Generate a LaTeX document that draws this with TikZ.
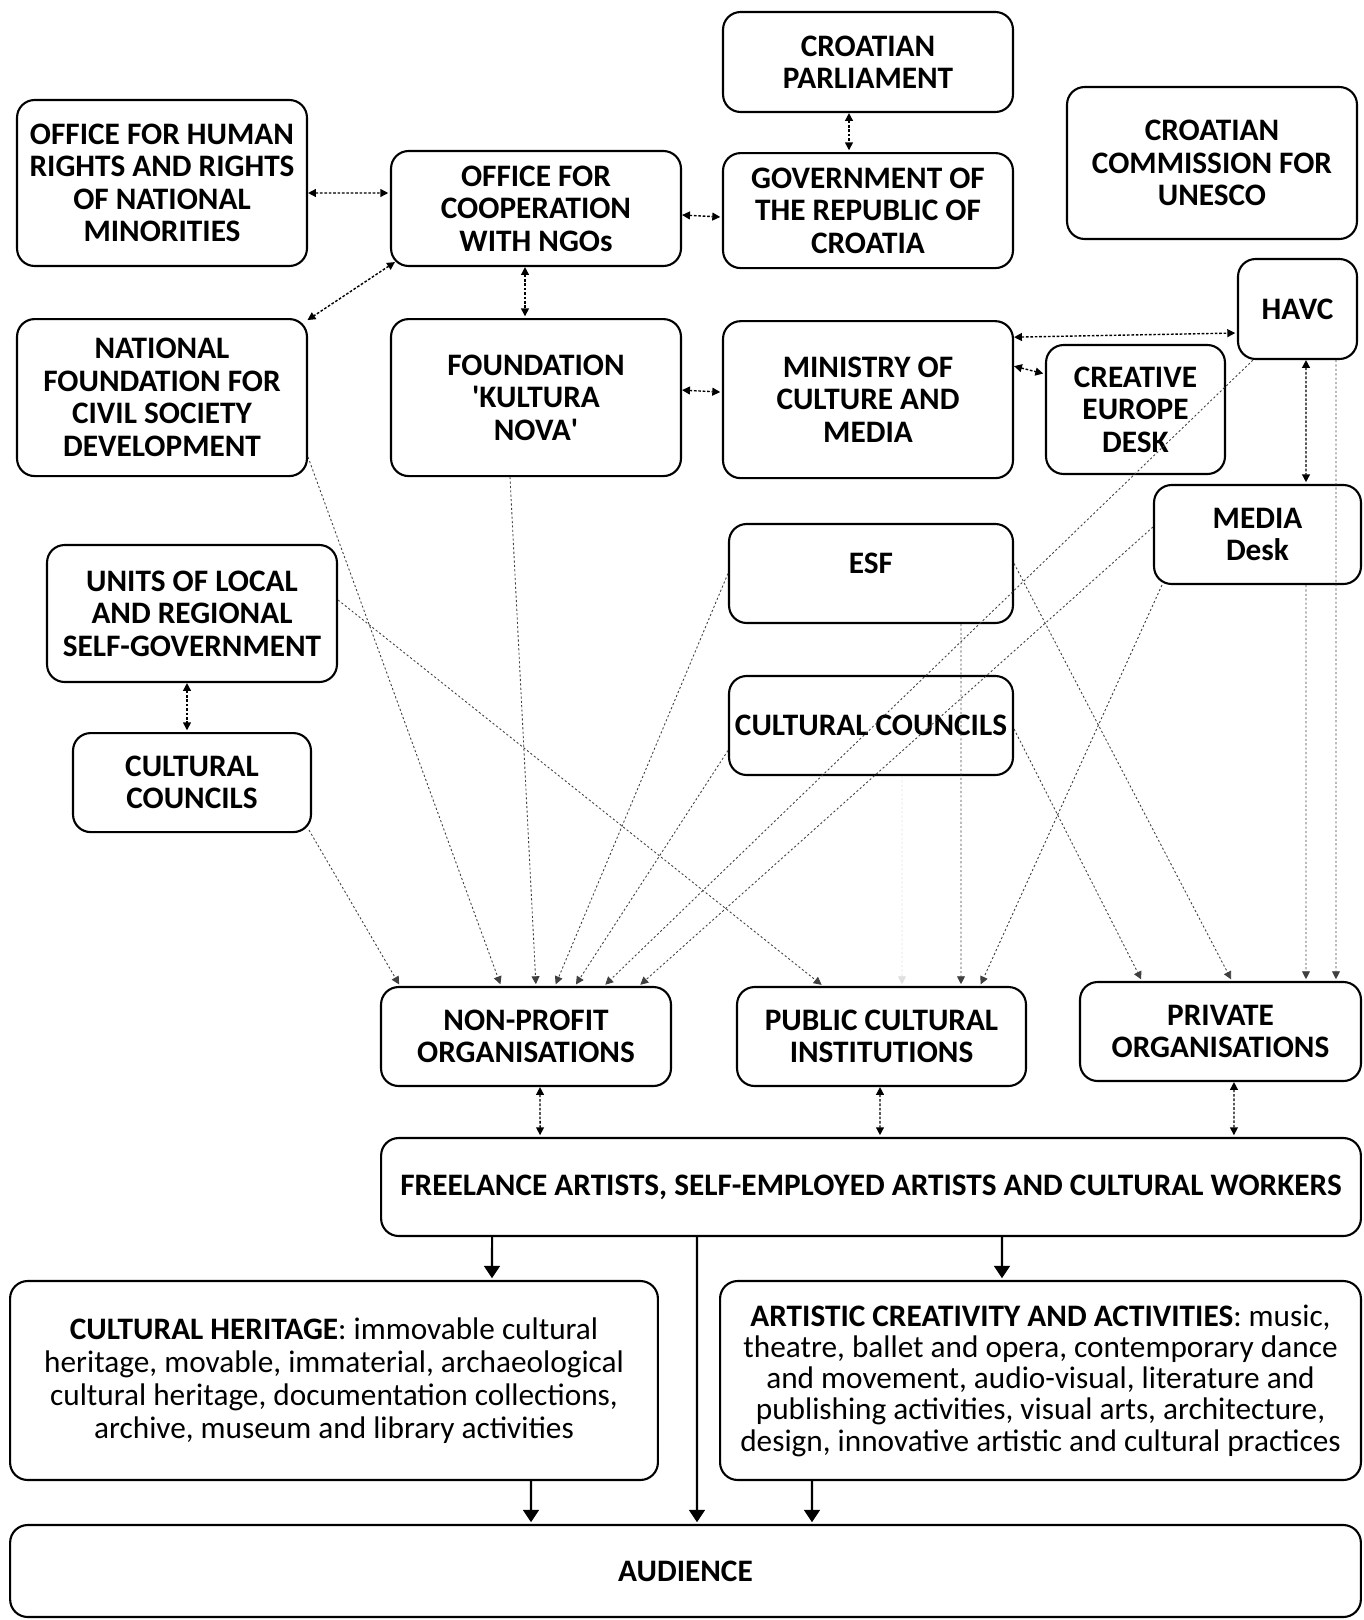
\documentclass[tikz,border=0pt]{standalone}
\usepackage{fontspec}
\setmainfont{Carlito}
\usetikzlibrary{arrows.meta,positioning}

\begin{document}
\begin{tikzpicture}[x=0.02cm,y=-0.02cm,>={Triangle[length=4.5pt,width=4.5pt]},shorten >=1pt,
                    main node/.style={rectangle,rounded corners=10pt,draw,line width=1.2pt,align=center,
                      inner sep=2pt,font=\fontsize{17.8}{18.5}\selectfont\bfseries},
                    text node/.style={main node,font=\fontsize{17.8}{18.7}\selectfont},
                    link/.style={<->,dash pattern=on 1.5pt off 1pt,line width=0.8pt},
                    feed/.style={->,dash pattern=on 1.2pt off 1.3pt,line width=0.5pt,draw=black!75},
                    flow/.style={-{Triangle[length=7pt,width=9pt]},line width=1.2pt}]
  \fill[white] (0,0) rectangle (1363,1620);

  \node[main node,minimum width=5.8cm,minimum height=2cm] (parl) at (868,62) {CROATIAN\\PARLIAMENT};
  \node[main node,minimum width=5.8cm,minimum height=2.3cm] (gov) [below=0.78cm of parl] {GOVERNMENT OF\\THE REPUBLIC OF\\CROATIA};
  \node[main node,minimum width=5.8cm,minimum height=2.3cm] (ngo) at (536,208.5) {OFFICE FOR\\COOPERATION\\WITH NGOs};
  \node[main node,minimum width=5.8cm,minimum height=3.32cm] (hr) at (162,183) {OFFICE FOR HUMAN\\RIGHTS AND RIGHTS\\OF NATIONAL\\MINORITIES};
  \node[main node,minimum width=5.8cm,minimum height=3.04cm] (unesco) at (1212,163) {CROATIAN\\COMMISSION FOR\\UNESCO};
  \node[main node,minimum width=5.8cm,minimum height=3.14cm] (nfcsd) [below=1.02cm of hr] {NATIONAL\\FOUNDATION FOR\\CIVIL SOCIETY\\DEVELOPMENT};
  \node[main node,minimum width=5.8cm,minimum height=3.14cm] (kn) [below=1.02cm of ngo] {FOUNDATION\\\textquotesingle KULTURA\\NOVA\textquotesingle};
  \node[main node,minimum width=5.8cm,minimum height=3.14cm] (min) [below=1.02cm of gov] {MINISTRY OF\\CULTURE AND\\MEDIA};
  \node[main node,minimum width=2.38cm,minimum height=2cm] (havc) at (1297.5,309) {HAVC};
  \node[main node,minimum width=3.58cm,minimum height=2.58cm] (ced) at (1135.5,409.5) {CREATIVE\\EUROPE\\DESK};
  \node[main node,minimum width=4.14cm,minimum height=1.98cm] (media) at (1257.5,534.5) {MEDIA\\Desk};
  \node[main node,minimum width=5.68cm,minimum height=1.98cm,text depth=0.4cm] (esf) at (871,573.5) {ESF};
  \node[main node,minimum width=5.68cm,minimum height=1.98cm] (ccm) at (871,725.5) {CULTURAL COUNCILS};
  \node[main node,minimum width=5.8cm,minimum height=2.74cm] (units) at (192,613.5) {UNITS OF LOCAL\\AND REGIONAL\\SELF-GOVERNMENT};
  \node[main node,minimum width=4.76cm,minimum height=1.98cm] (ccl) [below=0.98cm of units] {CULTURAL\\COUNCILS};
  \node[main node,minimum width=5.8cm,minimum height=1.98cm] (np) at (526,1036.5) {NON-PROFIT\\ORGANISATIONS};
  \node[main node,minimum width=5.78cm,minimum height=1.98cm] (pci) at (881.5,1036.5) {PUBLIC CULTURAL\\INSTITUTIONS};
  \node[main node,minimum width=5.62cm,minimum height=1.98cm] (priv) at (1220.5,1031.5) {PRIVATE\\ORGANISATIONS};
  \node[main node,minimum width=19.6cm,minimum height=1.96cm] (free) at (871,1187) {FREELANCE ARTISTS, SELF-EMPLOYED ARTISTS AND CULTURAL WORKERS};
  \node[text node,minimum width=12.96cm,minimum height=3.98cm] (heri) at (334,1380.5)
    {\textbf{CULTURAL HERITAGE}: immovable cultural\\heritage, movable, immaterial, archaeological\\cultural heritage, documentation collections,\\archive, museum and library activities};
  \node[text node,minimum width=12.82cm,minimum height=3.98cm,font=\fontsize{17.8}{17.8}\selectfont] (art) at (1040.5,1380.5)
    {\textbf{ARTISTIC CREATIVITY AND ACTIVITIES}: music,\\theatre, ballet and opera, contemporary dance\\and movement, audio-visual, literature and\\publishing activities, visual arts, architecture,\\design, innovative artistic and cultural practices};
  \node[main node,minimum width=27.02cm,minimum height=1.84cm] (aud) at (685.5,1571) {AUDIENCE};

  % two-way links
  \path
    ([xshift=-0.38cm]parl.south) edge [link] ([xshift=-0.38cm]gov.north)
    ([yshift=-0.2cm]hr.east) edge [link] ([yshift=0.31cm]ngo.west)
    ([yshift=-0.13cm]ngo.east) edge [link] ([yshift=-0.13cm]gov.west)
    ([xshift=0.1cm,yshift=0.1cm]ngo.south west) edge [link] ([xshift=-0.04cm,yshift=-0.06cm]nfcsd.north east)
    ([xshift=-0.22cm]ngo.south) edge [link] ([xshift=-0.22cm]kn.north)
    ([yshift=0.15cm]kn.east) edge [link] ([yshift=0.15cm]min.west)
    ([yshift=1.25cm]min.east) edge [link] ([yshift=-0.48cm]havc.west)
    ([yshift=0.67cm]min.east) edge [link] ([yshift=0.71cm]ced.west)
    ([xshift=0.17cm]havc.south) edge [link] ([xshift=0.97cm]media.north)
    ([xshift=-0.1cm]units.south) edge [link] ([xshift=-0.1cm]ccl.north)
    ([xshift=0.28cm]np.south) edge [link] ([xshift=-6.62cm]free.north)
    ([xshift=-0.03cm]pci.south) edge [link] ([xshift=0.18cm]free.north)
    ([xshift=0.27cm]priv.south) edge [link] ([xshift=7.26cm]free.north);

  % funding towards the organisations
  \path
    ([xshift=-0.06cm,yshift=0.06cm]ccl.south east) edge [feed] ([xshift=-2.52cm]np.north)
    ([yshift=-1.19cm]nfcsd.east) edge [feed] ([xshift=-0.5cm]np.north)
    ([xshift=-0.52cm]kn.south) edge [feed] ([xshift=0.2cm]np.north)
    (esf.west) edge [feed] ([xshift=0.58cm]np.north)
    ([yshift=-0.5cm]ccm.west) edge [feed] ([xshift=0.98cm]np.north)
    ([xshift=-0.89cm]havc.south) edge [feed] ([xshift=1.56cm]np.north)
    ([yshift=0.15cm]media.west) edge [feed] ([xshift=2.26cm]np.north)
    ([yshift=0.27cm]units.east) edge [feed] ([xshift=-1.17cm]pci.north)
    ([xshift=0.62cm]ccm.south) edge [feed,draw=black!12] ([xshift=0.41cm]pci.north)
    ([xshift=1.8cm]esf.south) edge [feed] ([xshift=1.59cm]pci.north)
    ([xshift=0.18cm]media.south west) edge [feed] ([xshift=1.97cm]pci.north)
    ([yshift=-0.07cm]ccm.east) edge [feed] ([xshift=-1.57cm]priv.north)
    ([yshift=0.2cm]esf.east) edge [feed] ([xshift=0.23cm]priv.north)
    ([xshift=0.97cm]media.south) edge [feed] ([xshift=1.71cm]priv.north)
    ([xshift=0.77cm]havc.south) edge [feed] ([xshift=2.31cm]priv.north);

  % output to the audience
  \path
    ([xshift=-7.58cm]free.south) edge [flow] ([xshift=3.16cm]heri.north)
    ([xshift=2.62cm]free.south) edge [flow] ([xshift=-0.77cm]art.north)
    ([xshift=-3.48cm]free.south) edge [flow] ([xshift=0.23cm]aud.north)
    ([xshift=3.94cm]heri.south) edge [flow] ([xshift=-3.09cm]aud.north)
    ([xshift=-4.57cm]art.south) edge [flow] ([xshift=2.53cm]aud.north);
\end{tikzpicture}
\end{document}
